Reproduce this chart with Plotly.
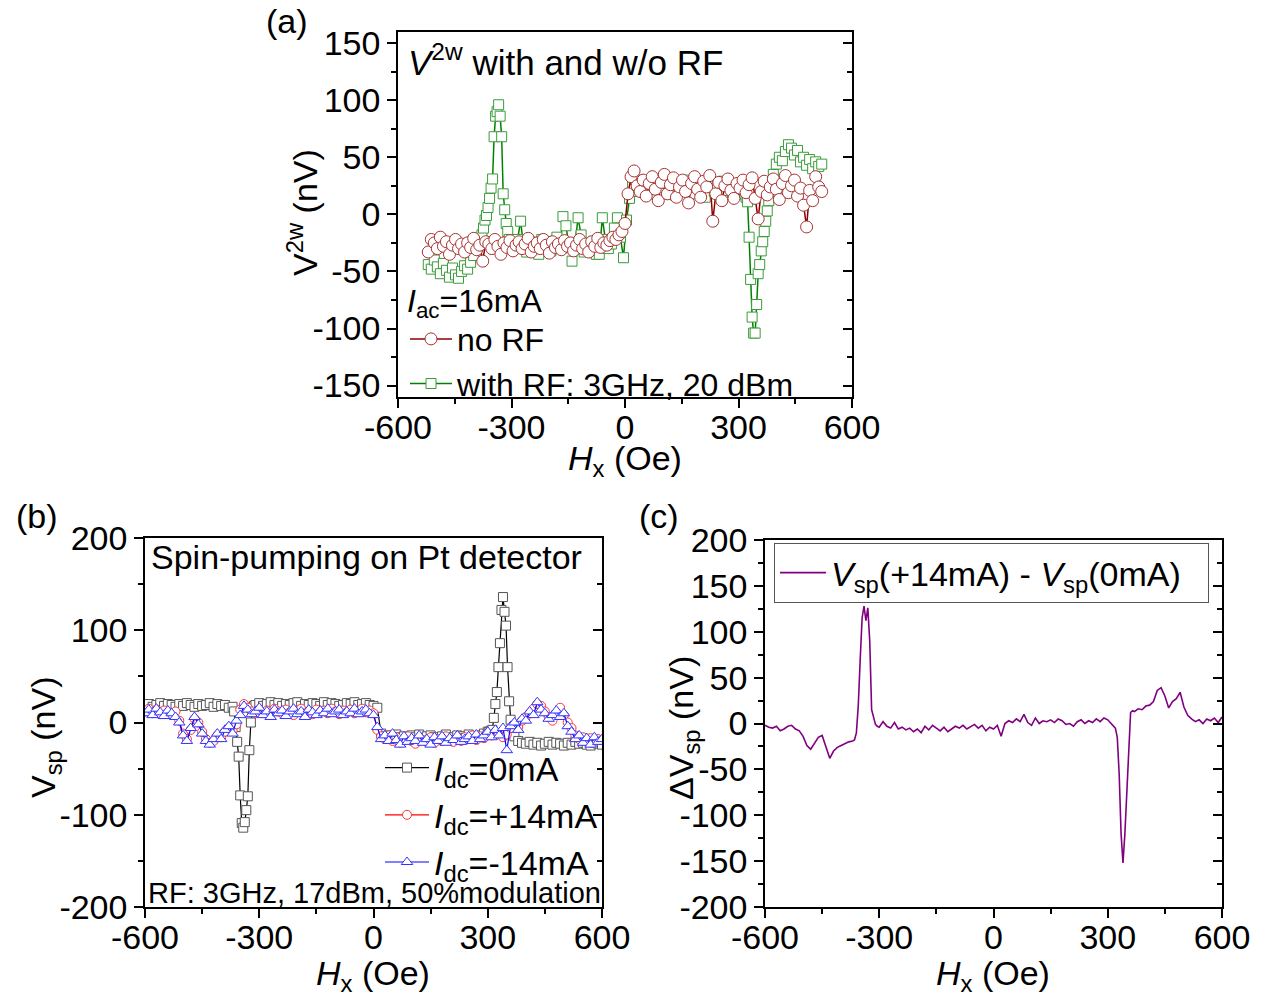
import plotly.graph_objects as go

# ---------------- data ----------------
# Panel (a): V2w with and without RF
HX_A_NORF = [-520,-512,-504,-496,-488,-480,-472,-464,-456,-448,-440,-432,-424,-416,-408,-400,-392,-384,-376,-368,
             -360,-352,-344,-336,-328,-320,-312,-304,-296,-288,-280,-272,-264,-256,-248,-240,-232,-224,-216,-208,
             -200,-192,-184,-176,-168,-160,-152,-144,-136,-128,-120,-112,-104,-96,-88,-80,-72,-64,-56,-48,
             -40,-32,-24,-16,-8,0,8,16,24,32,40,48,56,64,72,80,88,96,104,112,
             120,128,136,144,152,160,168,176,184,192,200,208,216,224,232,240,248,256,264,272,
             280,288,296,304,312,320,328,336,344,352,360,368,376,384,392,400,408,416,424,432,
             440,448,456,464,472,480,488,496,504,512,520]
V2W_NORF = [-33,-22,-25,-30,-20,-28,-24,-35,-27,-22,-30,-26,-33,-25,-29,-21,-31,-27,-41,-24,
            -26,-30,-22,-28,-35,-25,-29,-23,-32,-27,-24,-30,-26,-21,-33,-28,-25,-30,-22,-27,
            -34,-24,-29,-26,-31,-23,-28,-25,-32,-27,-22,-30,-26,-33,-24,-28,-21,-29,-25,-27,
            -23,-20,-22,-18,-15,-8,18,33,38,25,20,30,16,27,33,22,12,28,35,18,
            26,32,15,24,30,20,10,27,33,22,15,29,24,34,-6,18,28,12,25,31,
            21,14,27,23,30,19,26,32,14,-4,20,29,17,24,31,22,13,27,34,19,
            25,30,16,23,8,-11,21,12,33,24,20]

HX_A_RF = [-520,-512,-504,-496,-488,-480,-472,-464,-456,-448,-440,-432,-424,-416,-408,-400,-392,-384,
           -378,-374,-370,-366,-362,-358,-354,-350,-346,-342,-338,-334,-330,-326,-322,-318,-314,-310,-306,
           -300,-292,-284,-276,-268,-260,-252,-244,-236,-228,-220,-212,-204,-196,-188,-180,-172,-164,-156,
           -148,-140,-132,-124,-116,-108,-100,-92,-84,-76,-68,-60,-52,-44,-36,-28,-20,-12,-4,
           4,12,20,28,36,44,52,60,68,76,84,92,100,108,116,124,132,140,148,156,164,172,180,188,
           196,204,212,220,228,236,244,252,260,268,276,284,292,300,308,
           316,320,324,328,332,336,340,344,348,352,356,360,364,368,372,376,380,384,388,
           392,400,408,416,424,432,440,448,456,464,472,480,488,496,504,512,520]
V2W_RF = [-44,-48,-40,-46,-52,-43,-49,-55,-47,-53,-56,-50,-45,-48,-42,-36,-30,-22,
          -18,-12,-5,-1,6,14,23,31,68,86,90,96,86,68,18,4,-8,-15,-22,
          -25,-30,-22,-6,-28,-33,-24,-30,-27,-35,-22,-29,-26,-32,-24,-20,-30,-2,-10,
          -28,-41,-25,-3,-18,-33,-27,-30,-24,-35,-35,-3,-22,-30,-26,-12,-3,-20,-38,
          -5,14,26,30,20,25,28,22,18,26,30,24,19,27,31,23,17,25,29,21,
          26,30,18,24,28,22,15,25,27,20,26,23,29,21,25,19,24,18,20,
          18,15,11,-20,-57,-90,-104,-104,-79,-52,-44,-32,-24,-15,-6,3,12,22,28,
          35,44,50,47,55,61,58,52,56,46,50,43,48,40,46,42,44]

# Panel (b): spin pumping on Pt detector
HX_B = [-600,-590,-580,-570,-560,-550,-540,-530,-520,-510,-500,-490,-480,-470,-460,-450,-440,-430,-420,-410,
        -400,-390,-380,-370,-360,-350,-340,-330,-320,-310,-300,-290,-280,-270,-260,-250,-240,-230,-220,-210,
        -200,-190,-180,-170,-160,-150,-140,-130,-120,-110,-100,-90,-80,-70,-60,-50,-40,-30,-20,-10,
        0,10,20,30,40,50,60,70,80,90,100,110,120,130,140,150,160,170,180,190,
        200,210,220,230,240,250,260,270,280,290,300,310,320,330,340,350,360,370,380,390,
        400,410,420,430,440,450,460,470,480,490,500,510,520,530,540,550,560,570,580,590,600]
VSP_P14 = [12,15,10,14,9,13,11,8,12,2,-12,-18,-8,4,0,-10,-18,-22,-20,-14,
           -16,-10,-6,-9,-2,14,20,16,12,10,14,11,13,9,15,12,10,14,11,8,
           13,15,10,12,9,14,11,13,10,15,12,9,13,11,14,10,12,15,11,13,
           10,-8,-15,-18,-14,-20,-16,-22,-18,-15,-20,-23,-17,-19,-21,-16,-22,-18,-20,-15,
           -19,-21,-17,-20,-16,-18,-14,-19,-15,-17,-12,-14,-10,-12,-16,-13,-6,-2,-5,2,
           6,10,15,20,18,12,6,2,10,16,8,0,-6,-14,-18,-16,-20,-17,-21,-18,-19]
VSP_M14 = [10,14,8,15,11,7,13,10,6,0,-14,-20,-6,6,-2,-12,-20,-24,-18,-12,
           -18,-8,-4,-12,2,8,18,14,9,12,16,8,12,6,14,10,13,7,12,15,
           9,12,6,14,11,8,13,10,15,9,12,14,8,12,10,15,9,12,14,10,
           8,-5,-18,-14,-20,-12,-19,-24,-15,-21,-17,-20,-14,-22,-18,-24,-16,-20,-15,-22,
           -17,-19,-14,-21,-18,-15,-20,-13,-18,-14,-10,-16,-8,-14,-6,-30,-4,0,-8,4,
           2,12,8,22,14,10,4,8,13,6,10,-4,-10,-18,-14,-22,-17,-24,-16,-21,-18]
HX_B_0MA = [-600,-590,-580,-570,-560,-550,-540,-530,-520,-510,-500,-490,-480,-470,-460,-450,-440,-430,-420,-410,
            -400,-390,-380,-370,
            -366,-362,-358,-354,-350,-346,-342,-338,-334,-330,-326,-322,-318,-314,
            -310,-300,-290,-280,-270,-260,-250,-240,-230,-220,-210,-200,-190,-180,-170,-160,-150,-140,-130,-120,
            -110,-100,-90,-80,-70,-60,-50,-40,-30,-20,-10,0,
            10,20,30,40,50,60,70,80,90,100,110,120,130,140,150,160,170,180,190,200,
            210,220,230,240,250,260,270,280,290,300,
            304,308,312,316,320,324,328,332,336,340,344,348,352,356,360,
            370,380,390,400,410,420,430,440,450,460,470,480,490,500,510,520,530,540,550,560,570,580,590,600]
VSP_0MA = [18,20,17,19,21,18,20,19,17,20,18,21,19,17,20,18,19,21,17,20,18,19,16,17,
           12,-5,-21,-37,-79,-109,-114,-108,-95,-80,-30,0,12,18,
           19,21,18,20,22,19,21,18,20,19,21,22,18,20,19,21,20,18,22,19,21,20,18,19,21,20,22,19,20,21,19,18,
           16,-12,-15,-14,-17,-13,-16,-15,-18,-14,-16,-13,-17,-15,-14,-16,-18,-15,-13,-17,
           -16,-14,-15,-17,-13,-16,-15,-14,-12,-10,
           -10,-9,-8,5,20,33,60,86,122,136,120,105,60,23,3,
           -15,-20,-22,-23,-21,-24,-22,-25,-23,-21,-24,-22,-23,-25,-22,-24,-21,-23,-22,-24,-25,-22,-23,-24]

# Panel (c): difference V_sp(+14mA) - V_sp(0mA)
HX_C = [-600,-590,-580,-570,-560,-550,-540,-530,-520,-510,-500,-490,-480,-470,-460,-450,-440,-430,-420,-410,
        -400,-390,-380,-370,
        -365,-360,-355,-350,-345,-340,-335,-330,-325,-320,-315,-310,-305,
        -300,-290,-280,-270,-260,-250,-240,-230,-220,-210,-200,-190,-180,-170,-160,-150,-140,-130,-120,-110,
        -100,-90,-80,-70,-60,-50,-40,-30,-20,-10,0,10,20,30,40,50,60,70,80,90,
        100,110,120,130,140,150,160,170,180,190,200,210,220,230,240,250,260,270,280,290,300,310,320,
        325,330,335,340,345,350,355,360,365,
        370,380,390,400,410,420,430,440,450,460,470,480,490,500,510,520,530,540,550,560,570,580,590,600]
DVSP = [-2,-4,-5,-3,-8,-6,-3,-2,-6,-8,-14,-24,-28,-22,-15,-13,-25,-38,-30,-26,-24,-22,-20,-19,
        -18,-10,20,70,115,128,112,126,90,15,5,-1,-3,
        -4,2,-3,-5,1,-6,-4,-7,-5,-9,-6,-10,-3,-7,-2,-5,-8,-4,-9,-6,
        -3,-5,-2,-6,-3,-1,-5,-2,-8,-4,-6,-2,-14,0,3,1,5,2,10,1,
        -2,6,0,3,2,4,1,5,3,-1,0,-3,2,4,0,3,1,5,2,6,4,0,-5,
        -15,-55,-120,-152,-120,-75,-20,12,14,
        13,16,15,19,20,24,36,39,30,17,24,27,34,18,9,5,2,4,0,5,3,6,1,7]

# tick definitions
X_TICKS = [-600, -300, 0, 300, 600]
X_TICKTEXT = ["-600", "-300", "0", "300", "600"]
X_MINOR = [-450, -150, 150, 450]
YA_TICKS = [-150, -100, -50, 0, 50, 100, 150]
YA_TICKTEXT = ["-150", "-100", "-50", "0", "50", "100", "150"]
YA_MINOR = [-125, -75, -25, 25, 75, 125]
YB_TICKS = [-200, -100, 0, 100, 200]
YB_TICKTEXT = ["-200", "-100", "0", "100", "200"]
YB_MINOR = [-150, -50, 50, 150]
YC_TICKS = [-200, -150, -100, -50, 0, 50, 100, 150, 200]
YC_TICKTEXT = ["-200", "-150", "-100", "-50", "0", "50", "100", "150", "200"]
YC_MINOR = [-175, -125, -75, -25, 25, 75, 125, 175]

# ---------------- layout helpers ----------------
W, H = 1265, 999
FONT = "Liberation Sans, Arial, sans-serif"
TICK_SIZE = 34
TEXT_SIZE = 34


def fx(px):
    return px / W


def fy(py):
    return 1 - py / H


def xaxis(dom, anchor):
    return dict(domain=[fx(dom[0]), fx(dom[1])], anchor=anchor, range=[-600, 600],
                tickmode="array", tickvals=X_TICKS, ticktext=X_TICKTEXT,
                ticks="outside", ticklen=9, tickwidth=1.5, tickcolor="black",
                ticklabelstandoff=-10,
                minor=dict(tickmode="array", tickvals=X_MINOR, ticks="outside", ticklen=5,
                           tickwidth=1.5, tickcolor="black"),
                showline=True, linecolor="black", linewidth=1.5, mirror=True,
                showgrid=False, zeroline=False, fixedrange=True, automargin=False,
                tickfont=dict(family=FONT, size=TICK_SIZE, color="black"))


def yaxis(dom, anchor, rng, tv, tt, mv):
    return dict(domain=[fy(dom[1]), fy(dom[0])], anchor=anchor, range=rng,
                tickmode="array", tickvals=tv, ticktext=tt,
                ticks="outside", ticklen=9, tickwidth=1.5, tickcolor="black",
                minor=dict(tickmode="array", tickvals=mv, ticks="outside", ticklen=5,
                           tickwidth=1.5, tickcolor="black"),
                showline=True, linecolor="black", linewidth=1.5, mirror=False,
                showgrid=False, zeroline=False, fixedrange=True, automargin=False,
                tickfont=dict(family=FONT, size=TICK_SIZE, color="black"))


def yright(over, anchor, rng, tv, mv):
    return dict(overlaying=over, side="right", anchor=anchor, range=rng,
                tickmode="array", tickvals=tv, showticklabels=False,
                ticks="inside", ticklen=9, tickwidth=1.5, tickcolor="black",
                minor=dict(tickmode="array", tickvals=mv, ticks="inside", ticklen=5,
                           tickwidth=1.5, tickcolor="black"),
                showline=True, linecolor="black", linewidth=1.5, automargin=False,
                showgrid=False, zeroline=False, fixedrange=True)


A_X, A_Y = (398, 852), (31.7, 397)
B_X, B_Y = (145, 602), (538, 907)
C_X, C_Y = (765, 1222), (540, 907)

fig = go.Figure()

# ---- panel (a)
fig.add_trace(go.Scatter(x=HX_A_RF, y=V2W_RF, mode="lines+markers", xaxis="x", yaxis="y",
                         name="with RF: 3GHz, 20 dBm", legend="legend", legendrank=2,
                         line=dict(color="#008000", width=1.5),
                         marker=dict(symbol="square", size=10, color="white",
                                     line=dict(color="#3a9c3a", width=1))))
fig.add_trace(go.Scatter(x=HX_A_NORF, y=V2W_NORF, mode="lines+markers", xaxis="x", yaxis="y",
                         name="no RF", legend="legend", legendrank=1,
                         line=dict(color="#8b0000", width=1.5),
                         marker=dict(symbol="circle", size=12, color="white",
                                     line=dict(color="#a83232", width=1))))

# ---- panel (b)
fig.add_trace(go.Scatter(x=HX_B_0MA, y=VSP_0MA, mode="lines+markers", xaxis="x2", yaxis="y2",
                         name="<i>I</i><sub>dc</sub>=0mA", legend="legend2", legendrank=1,
                         line=dict(color="black", width=1.2),
                         marker=dict(symbol="square", size=9, color="white",
                                     line=dict(color="#555555", width=1))))
fig.add_trace(go.Scatter(x=HX_B, y=VSP_P14, mode="lines+markers", xaxis="x2", yaxis="y2",
                         name="<i>I</i><sub>dc</sub>=+14mA", legend="legend2", legendrank=2,
                         line=dict(color="red", width=1.2),
                         marker=dict(symbol="circle", size=9, color="white",
                                     line=dict(color="#ff3333", width=1))))
fig.add_trace(go.Scatter(x=HX_B, y=VSP_M14, mode="lines+markers", xaxis="x2", yaxis="y2",
                         name="<i>I</i><sub>dc</sub>=-14mA", legend="legend2", legendrank=3,
                         line=dict(color="blue", width=1.2),
                         marker=dict(symbol="triangle-up", size=10, color="white",
                                     line=dict(color="#3333ff", width=1))))

# ---- panel (c)
fig.add_trace(go.Scatter(x=HX_C, y=DVSP, mode="lines", xaxis="x3", yaxis="y3",
                         name="<i>V</i><sub>sp</sub>(+14mA) - <i>V</i><sub>sp</sub>(0mA)",
                         legend="legend3", line=dict(color="#800080", width=1.6)))

# dummy traces so the right-hand mirrored axes are drawn
for xa, ya in (("x", "y4"), ("x2", "y5"), ("x3", "y6")):
    fig.add_trace(go.Scatter(x=[None], y=[None], xaxis=xa, yaxis=ya, mode="markers",
                             showlegend=False, hoverinfo="skip"))

font_a = dict(family=FONT, size=32, color="black")
font_b = dict(family=FONT, size=TEXT_SIZE, color="black")

fig.update_layout(
    width=W, height=H, margin=dict(l=0, r=0, t=0, b=0, pad=0, autoexpand=False),
    paper_bgcolor="white", plot_bgcolor="white",
    font=dict(family=FONT, color="black"),
    hovermode=False,
    xaxis=xaxis(A_X, "y"), yaxis=yaxis(A_Y, "x", [-160, 160], YA_TICKS, YA_TICKTEXT, YA_MINOR),
    xaxis2=xaxis(B_X, "y2"), yaxis2=yaxis(B_Y, "x2", [-200, 200], YB_TICKS, YB_TICKTEXT, YB_MINOR),
    xaxis3=xaxis(C_X, "y3"), yaxis3=yaxis(C_Y, "x3", [-200, 200], YC_TICKS, YC_TICKTEXT, YC_MINOR),
    yaxis4=yright("y", "x", [-160, 160], YA_TICKS, YA_MINOR),
    yaxis5=yright("y2", "x2", [-200, 200], YB_TICKS, YB_MINOR),
    yaxis6=yright("y3", "x3", [-200, 200], YC_TICKS, YC_MINOR),
    legend=dict(x=fx(405), y=fy(270), xanchor="left", yanchor="top",
                bgcolor="rgba(0,0,0,0)", borderwidth=0, font=font_a, itemwidth=42,
                title=dict(text="<i>I</i><sub>ac</sub>=16mA", font=font_a, side="top"),
                tracegroupgap=0, itemclick=False, itemdoubleclick=False),
    legend2=dict(x=fx(380), y=fy(739), xanchor="left", yanchor="top",
                 bgcolor="rgba(0,0,0,0)", borderwidth=0, font=font_b, itemwidth=44,
                 tracegroupgap=0, itemclick=False, itemdoubleclick=False),
    legend3=dict(x=fx(774), y=fy(543), xanchor="left", yanchor="top", orientation="h",
                 bgcolor="white", bordercolor="#555555", borderwidth=1, font=font_b,
                 itemwidth=46, entrywidth=372, entrywidthmode="pixels",
                 itemclick=False, itemdoubleclick=False),
)

annots = [
    dict(text="(a)", x=fx(287), y=fy(21)),
    dict(text="(b)", x=fx(37), y=fy(516)),
    dict(text="(c)", x=fx(659), y=fy(516)),
    dict(text="V<sup>2w</sup> (nV)", x=fx(303), y=fy(213), textangle=-90),
    dict(text="<i>H</i><sub>x</sub> (Oe)", x=fx(625), y=fy(461)),
    dict(text="V<sub>sp</sub> (nV)", x=fx(45), y=fy(737), textangle=-90),
    dict(text="<i>H</i><sub>x</sub> (Oe)", x=fx(373), y=fy(975)),
    dict(text="ΔV<sub>sp</sub> (nV)", x=fx(683), y=fy(728), textangle=-90),
    dict(text="<i>H</i><sub>x</sub> (Oe)", x=fx(993), y=fy(975)),
    dict(text="<i>V</i><sup>2w</sup> with and w/o RF", x=fx(406), y=fy(60), xanchor="left", size=35),
    dict(text="Spin-pumping on Pt detector", x=fx(149), y=fy(557), xanchor="left"),
    dict(text="RF: 3GHz, 17dBm, 50%modulation", x=fx(146), y=fy(893), xanchor="left", size=29),
]
for a in annots:
    size = a.pop("size", TEXT_SIZE)
    a.setdefault("xanchor", "center")
    fig.add_annotation(xref="paper", yref="paper", yanchor="middle", showarrow=False,
                       font=dict(family=FONT, size=size, color="black"), **a)

fig.write_html("out.html", config={"displayModeBar": False},
               post_script="document.body.style.margin='0';")
